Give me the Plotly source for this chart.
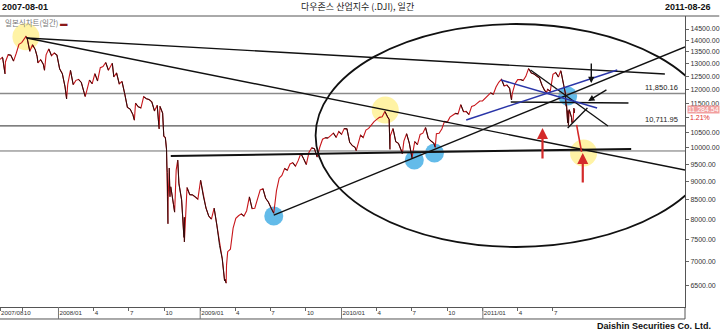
import numpy as np
import pandas as pd
import plotly.graph_objects as go

# ---------------- data ----------------
weekly_close = [
    # 2007 (from Aug 3)
    13182, 13239, 13079, 13379, 13358, 13113, 13442, 13820, 13896, 14066, 14093,
    13522, 13806, 13595, 13042, 13176, 12980, 13372, 13625, 13339, 13450, 13366,
    # 2008
    12800, 12606, 12099, 12207, 12743, 12182, 12348, 12381, 12266, 11894, 11951,
    12361, 12216, 12610, 12325, 12849, 12891, 13058, 12745, 12986, 12480, 12638,
    12209, 12307, 11843, 11346, 11288, 11100, 11496, 11370, 11326, 11734, 11659,
    11628, 11543, 11220, 11421, 11388, 11143, 10325, 8451, 8852, 8378, 9325,
    8943, 8497, 8046, 8829, 8635, 8629, 8579, 8515,
    # 2009
    9034, 8599, 8281, 8077, 8000, 8280, 7850, 7366, 7063, 6627, 7224,
    7279, 7776, 8018, 8083, 8131, 8076, 8212, 8575, 8268, 8277, 8500,
    8764, 8799, 8539, 8438, 8280, 8146, 8743, 9093, 9171, 9370, 9321,
    9505, 9544, 9441, 9605, 9820, 9665, 9487, 9865, 9996, 9972, 9713,
    10023, 10270, 10318, 10310, 10389, 10471, 10329, 10520,
    # 2010
    10428, 10618, 10610, 10173, 10067, 10012, 10099, 10402, 10325, 10567, 10625,
    10742, 10851, 10927, 10997, 11019, 11204, 11009, 10380, 10620, 10193, 10137,
    9931, 10211, 10450, 10144, 9686, 10198, 10098, 10425, 10466, 10654, 10303,
    10213, 10150, 10448, 10462, 10607, 10860, 10830, 11006, 11063, 11133, 11118,
    11444, 11193, 11204, 11092, 11382, 11411, 11492, 11573, 11578,
    # 2011
    11675, 11787, 11872, 11824, 12092, 12273, 12391, 12130, 12170, 12044, 11859,
    12221, 12377, 12380, 12342, 12505, 12811, 12638, 12596, 12512, 12441, 12151,
    11952, 12004, 11934, 12582, 12657, 12480, 12681, 12143, 11445, 11269, 10818,
    11284,
]
weekly_dates = pd.date_range("2007-08-03", "2011-08-26", freq="W-FRI")

extra_dates = [
    "2007-08-09", "2007-08-16", "2007-10-09", "2007-11-07", "2007-11-26",
    "2008-01-22", "2008-03-10", "2008-05-19", "2008-07-15", "2008-09-15",
    "2008-09-17", "2008-09-29", "2008-10-06", "2008-10-07", "2008-10-08",
    "2008-10-09", "2008-10-09 18:00", "2008-10-13", "2008-10-15", "2008-10-27",
    "2008-11-04", "2008-11-20", "2008-11-21 04:00", "2009-03-05", "2009-03-09",
    "2009-03-10", "2010-02-08", "2010-05-04", "2010-05-06", "2010-06-07",
    "2010-08-31", "2011-03-16", "2011-06-15", "2011-07-21", "2011-08-02",
    "2011-08-04", "2011-08-08", "2011-08-09", "2011-08-10", "2011-08-11",
    "2011-08-18", "2011-08-22", "2011-08-23", "2011-08-24", "2011-08-25",
]
extra_close = [
    13270, 12600, 14165, 13300, 12743,
    11650, 11740, 13028, 10900, 10917,
    10609, 10365, 9955, 9447, 9258,
    8579, 7882, 9387, 8577, 8176,
    9625, 7552, 7449, 6594, 6547,
    6926, 9908, 10926, 9950, 9816,
    10014, 11613, 11897, 12724, 11867,
    11384, 10810, 11240, 10720, 11144,
    10991, 10855, 11177, 11321, 11150,
]

# horizontal price levels
level_values = [11850.16, 10711.95, 9900]
level_labels = ["11,850.16", "10,711.95", ""]

# trend lines (date pairs, price pairs)
line_dates = [
    ["2007-10-11", "2012-04-15"],   # long top line
    ["2007-10-11", "2012-06-06"],   # falling line from 2007 peak
    ["2009-07-10", "2012-06-06"],   # rising line from 2009 low
    ["2011-05-04", "2011-11-20"],   # falling line from 2011 peak
    ["2011-03-14", "2012-01-12"],   # flat line
    ["2008-10-17", "2012-01-19"],   # support line
    ["2011-08-08", "2011-09-28"],   # small wedge line
]
line_prices = [
    [14100, 12596],
    [14100, 9328],
    [8100, 13706],
    [12754, 10704],
    [11539, 11503],
    [9746, 9962],
    [10637, 11324],
]
line_widths = [1.4, 1.4, 1.4, 1.3, 1.3, 2.0, 1.3]

blue_line_dates = [["2010-11-19", "2011-12-14"], ["2011-02-17", "2011-10-23"]]
blue_line_prices = [[10907, 12754], [12361, 11324]]

red_line_dates = ["2011-08-31", "2011-09-13"]
red_line_prices = [10741, 9869]

# highlighted circles
yellow_dates = ["2007-10-09", "2010-04-24", "2011-09-18"]
yellow_prices = [14150, 11254, 9837]
blue_dates = ["2009-07-10", "2010-07-08", "2010-08-29", "2011-08-08"]
blue_prices = [8078, 9624, 9837, 11760]

# big ellipse (date span, price span)
ellipse_dates = ["2009-10-26", "2012-08-27"]
ellipse_prices = [7331, 14729]

# arrows: head / tail
arrow_head_dates = ["2011-10-08", "2011-09-30", "2011-06-04", "2011-09-16"]
arrow_head_prices = [12245, 11575, 10637, 9837]
arrow_tail_dates = ["2011-10-08", "2011-11-20", "2011-06-04", "2011-09-16"]
arrow_tail_prices = [13078, 12018, 9624, 8928]
arrow_colors = ["#111111", "#111111", "#d42a2a", "#d42a2a"]

last_price = 11284.54
last_change = "1.21%"

x_tick_dates = ["2007-08-03", "2007-10-01", "2008-01-01", "2008-04-01", "2008-07-01",
                "2008-10-01", "2009-01-01", "2009-04-01", "2009-07-01", "2009-10-01",
                "2010-01-01", "2010-04-01", "2010-07-01", "2010-10-01", "2011-01-01",
                "2011-04-01", "2011-07-01"]
x_tick_labels = ["2007/08", "10", "2008/01", "4", "7", "10", "2009/01", "4", "7", "10",
                 "2010/01", "4", "7", "10", "2011/01", "4", "7"]
year_dates = ["2008-01-01", "2009-01-01", "2010-01-01", "2011-01-01"]
y_ticks = [6500, 7000, 7500, 8000, 8500, 9000, 9500, 10000, 10500, 11000,
           11500, 12000, 12500, 13000, 13500, 14000, 14500]
y_hidden_tick = 11000   # covered by the last-price marker in the reference

x_start, x_end = "2007-08-03", "2012-06-06"
y_lo, y_hi = 6076, 15102

# ---------------- build ----------------
price = pd.concat([pd.Series(weekly_close, index=weekly_dates),
                   pd.Series(extra_close, index=pd.to_datetime(extra_dates, format="mixed"))]
                  ).sort_index(kind="stable")
px_dates = list(price.index)
px_vals = list(price.values)

down_x, down_y = [], []
for i in range(1, len(px_vals)):
    if px_vals[i] < px_vals[i - 1]:
        down_x += [px_dates[i - 1], px_dates[i], None]
        down_y += [px_vals[i - 1], px_vals[i], None]

fig = go.Figure()

fig.add_trace(go.Scatter(x=yellow_dates, y=yellow_prices, mode="markers",
                         marker=dict(size=27, color="rgba(255,236,110,0.62)", line=dict(width=0)),
                         hoverinfo="skip"))
fig.add_trace(go.Scatter(x=blue_dates, y=blue_prices, mode="markers",
                         marker=dict(size=19, color="rgba(60,170,228,0.8)", line=dict(width=0)),
                         hoverinfo="skip"))

level_colors = ["#8a8a8a", "#555555", "#6e6e6e"]
level_widths = [1.6, 1.2, 1.0]
for lv, c, w in zip(level_values, level_colors, level_widths):
    fig.add_trace(go.Scatter(x=[x_start, x_end], y=[lv, lv], mode="lines",
                             line=dict(color=c, width=w), hoverinfo="skip"))

fig.add_trace(go.Scatter(x=px_dates, y=px_vals, mode="lines",
                         line=dict(color="#c8161b", width=1.1), hoverinfo="skip"))
fig.add_trace(go.Scatter(x=down_x, y=down_y, mode="lines",
                         line=dict(color="#2a0c0c", width=1.0), hoverinfo="skip"))

for d, p, w in zip(line_dates, line_prices, line_widths):
    fig.add_trace(go.Scatter(x=d, y=p, mode="lines", line=dict(color="#111111", width=w),
                             hoverinfo="skip"))
for d, p in zip(blue_line_dates, blue_line_prices):
    fig.add_trace(go.Scatter(x=d, y=p, mode="lines", line=dict(color="#2a35a8", width=1.5),
                             hoverinfo="skip"))
fig.add_trace(go.Scatter(x=red_line_dates, y=red_line_prices, mode="lines",
                         line=dict(color="#d42a2a", width=1.6), hoverinfo="skip"))

shapes = [
    dict(type="circle", xref="x", yref="y", x0=ellipse_dates[0], x1=ellipse_dates[1],
         y0=ellipse_prices[0], y1=ellipse_prices[1], line=dict(color="#111111", width=1.8)),
    dict(type="line", xref="paper", yref="paper", x0=0, x1=1.05, y0=1, y1=1,
         line=dict(color="#555555", width=1)),
    dict(type="line", xref="paper", yref="paper", x0=0, x1=1, y0=-0.0412, y1=-0.0412,
         line=dict(color="#555555", width=1)),
    dict(type="line", xref="paper", yref="paper", x0=1, x1=1, y0=-0.0412, y1=0,
         line=dict(color="#555555", width=1)),
]
for yd in year_dates:
    shapes.append(dict(type="line", xref="x", yref="paper", x0=yd, x1=yd, y0=-0.0412, y1=0,
                       line=dict(color="#777777", width=1)))

annotations = []
for hd, hp, td, tp, c in zip(arrow_head_dates, arrow_head_prices, arrow_tail_dates,
                             arrow_tail_prices, arrow_colors):
    red = c != "#111111"
    annotations.append(dict(x=hd, y=np.log10(hp), ax=td, ay=np.log10(tp), xref="x", yref="y",
                            axref="x", ayref="y", showarrow=True, arrowhead=2,
                            arrowsize=1.0 if red else 0.9, arrowwidth=2.2 if red else 1.4,
                            arrowcolor=c, text=""))
for lv, lb in zip(level_values, level_labels):
    if lb:
        annotations.append(dict(x=0.992, xref="paper", y=np.log10(lv), yref="y", text=lb,
                                showarrow=False, xanchor="right", yanchor="bottom", yshift=0,
                                font=dict(family="Liberation Sans", size=7.5, color="#222222")))
annotations += [
    dict(x=1.003, xref="paper", y=np.log10(last_price), yref="y", text=f"{last_price:,.2f}",
         showarrow=False, xanchor="left", yanchor="middle", bgcolor="#f2a0a0", borderpad=0,
         font=dict(family="Liberation Sans", size=7, color="#ffffff")),
    dict(x=1.022, xref="paper", y=np.log10(last_price), yref="y", yshift=-8, text=last_change,
         showarrow=False, xanchor="center", yanchor="middle",
         font=dict(family="Liberation Sans", size=7, color="#e02a2a")),
    dict(x=0.0, xref="paper", y=1.031, yref="paper", text="<b>2007-08-01</b>", showarrow=False,
         xanchor="left", yanchor="middle", font=dict(family="Liberation Sans", size=9, color="#111")),
    dict(x=0.5217, xref="paper", y=1.031, yref="paper", text="다우존스 산업지수 (.DJI), 일간",
         showarrow=False, xanchor="center", yanchor="middle",
         font=dict(family="Noto Sans CJK KR", size=9, color="#222")),
    dict(x=1.0406, xref="paper", y=1.031, yref="paper", text="<b>2011-08-26</b>", showarrow=False,
         xanchor="right", yanchor="middle", font=dict(family="Liberation Sans", size=9, color="#111")),
    dict(x=0.004, xref="paper", y=0.979, yref="paper",
         text="일본식차트(일간) <span style='color:#8a1a1a'>▬</span>", showarrow=False,
         xanchor="left", yanchor="middle", font=dict(family="Noto Sans CJK KR", size=7.5, color="#777")),
    dict(x=1.0406, xref="paper", y=-0.0653, yref="paper", text="<b>Daishin Securities Co. Ltd.</b>",
         showarrow=False, xanchor="right", yanchor="middle",
         font=dict(family="Liberation Sans", size=9, color="#111")),
]

fig.update_layout(
    width=720, height=332, margin=dict(l=0, r=30, t=16, b=25),
    paper_bgcolor="white", plot_bgcolor="white", showlegend=False,
    shapes=shapes, annotations=annotations,
    xaxis=dict(type="date", range=[x_start, x_end], showgrid=False, zeroline=False,
               tickvals=x_tick_dates, ticktext=x_tick_labels, ticks="outside", ticklen=3,
               tickcolor="#666", ticklabelposition="outside right", tickangle=0,
               tickfont=dict(family="Liberation Sans", size=6.2, color="#333"),
               showline=True, linecolor="#555", linewidth=1),
    yaxis=dict(type="log", side="right", range=[np.log10(y_lo), np.log10(y_hi)],
               tickvals=y_ticks,
               ticktext=["" if v == y_hidden_tick else f"{v:.2f}" for v in y_ticks],
               ticks="outside", ticklen=3, tickcolor="#666", showgrid=False, zeroline=False,
               tickfont=dict(family="Liberation Sans", size=7, color="#333"),
               showline=True, linecolor="#555", linewidth=1),
)

fig.write_html("out.html")
